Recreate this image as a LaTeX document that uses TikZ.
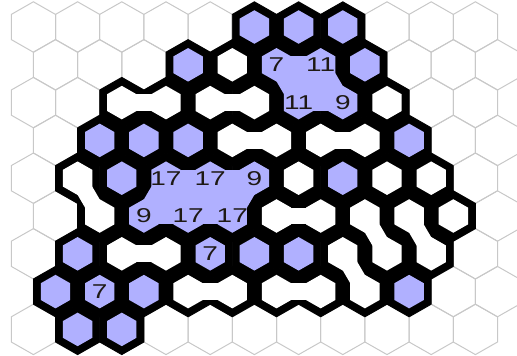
\documentclass[tikz,border=0pt]{standalone}
\usepackage{fontspec}
\setmainfont{Liberation Sans}
\newfontfamily\cluefont[FakeStretch=1.4]{Liberation Sans}

\definecolor{cellblue}{RGB}{176,176,255}
\definecolor{gridgray}{RGB}{200,200,200}
\definecolor{clueink}{RGB}{30,25,20}

% hexagon half width, half edge and radius (pointy top), inner scale
\def\hw{22.1}
\def\hh{12.6}
\def\hr{25.2}
\def\inner{0.665}

\newcommand{\hexcell}[3]{%
  \path[#1, shift={(#2)}, scale=#3] (0,-\hr) -- (\hw,-\hh) -- (\hw,\hh)
    -- (0,\hr) -- (-\hw,\hh) -- (-\hw,-\hh) -- cycle;}

\tikzset{
  gridline/.style={draw=gridgray, line width=1pt},
  wall/.style={fill=black, draw=black, line width=0.8pt},
  bluecell/.style={fill=cellblue},
  whitecell/.style={fill=white},
  bluelink/.style={draw=cellblue, line width=16.8pt},
  whitelink/.style={draw=white, line width=16.8pt},
  clue/.style={font=\cluefont\fontsize{20}{20}\selectfont, text=clueink, inner sep=0pt}
}

\def\bluecells{0/5,0/6,0/7,1/3,1/5,1/6,1/7,2/6,2/7,3/1,3/2,3/3,3/8,4/2,4/3,4/4,4/5,4/7,5/2,5/3,5/4,6/1,6/4,6/5,6/6,7/0,7/1,7/2,7/8,8/1,8/2}
\def\whitecells{1/4,2/2,2/3,2/4,2/5,2/8,3/4,3/5,3/6,3/7,4/1,4/6,4/8,4/9,5/1,5/5,5/6,5/7,5/8,5/9,6/2,6/3,6/7,6/8,6/9,7/3,7/4,7/5,7/6,7/7}

\begin{document}
\begin{tikzpicture}[x=1pt, y=-1pt]
  \useasboundingbox (0,0) rectangle (517,356);
  \clip (0,0) rectangle (517,356);

  % cell centres
  \foreach \row in {0,...,8}
    \foreach \col in {0,...,10} {
      \pgfmathsetmacro\cx{33.4+44.2*\col+22.1*mod(\row,2)}
      \pgfmathsetmacro\cy{27+37.8*\row}
      \coordinate (c-\row-\col) at (\cx,\cy);
    }

  % empty grid
  \foreach \row in {0,...,8}
    \foreach \col in {0,...,10}
      \hexcell{gridline}{c-\row-\col}{1};

  % board
  \foreach \row/\col in \bluecells \hexcell{wall}{c-\row-\col}{1};
  \foreach \row/\col in \whitecells \hexcell{wall}{c-\row-\col}{1};
  \foreach \row/\col in \bluecells \hexcell{bluecell}{c-\row-\col}{\inner};
  \foreach \row/\col in \whitecells \hexcell{whitecell}{c-\row-\col}{\inner};

  % joined cells
  \foreach \ra/\ca/\rb/\cb in {2/2/2/3, 2/4/2/5, 3/4/3/5, 3/6/3/7, 4/1/5/1, 5/5/5/6,
      5/7/6/8, 5/8/6/9, 6/2/6/3, 6/7/7/7, 7/3/7/4, 7/5/7/6}
    \draw[whitelink] (c-\ra-\ca) -- (c-\rb-\cb);
  \foreach \ra/\ca/\rb/\cb in {1/5/1/6, 1/5/2/6, 1/6/2/6, 1/6/2/7, 2/6/2/7,
      4/3/4/4, 4/4/4/5, 5/2/5/3, 5/3/5/4, 4/3/5/2, 4/3/5/3, 4/4/5/3, 4/4/5/4, 4/5/5/4}
    \draw[bluelink] (c-\ra-\ca) -- (c-\rb-\cb);
  \foreach \ra/\ca/\rb/\cb/\rc/\cc in {1/5/1/6/2/6, 1/6/2/6/2/7, 4/3/5/2/5/3,
      4/3/4/4/5/3, 4/4/5/3/5/4, 4/4/4/5/5/4}
    \fill[cellblue] (c-\ra-\ca) -- (c-\rb-\cb) -- (c-\rc-\cc) -- cycle;

  % clues
  \node[clue] (n-1-5) at (c-1-5) {7};
  \node[clue] (n-1-6) at (c-1-6) {11};
  \node[clue] (n-2-6) at (c-2-6) {11};
  \node[clue] (n-2-7) at (c-2-7) {9};
  \node[clue] (n-4-3) at (c-4-3) {17};
  \node[clue] (n-4-4) at (c-4-4) {17};
  \node[clue] (n-4-5) at (c-4-5) {9};
  \node[clue] (n-5-2) at (c-5-2) {9};
  \node[clue] (n-5-3) at (c-5-3) {17};
  \node[clue] (n-5-4) at (c-5-4) {17};
  \node[clue] (n-6-4) at (c-6-4) {7};
  \node[clue] (n-7-1) at (c-7-1) {7};
\end{tikzpicture}
\end{document}
